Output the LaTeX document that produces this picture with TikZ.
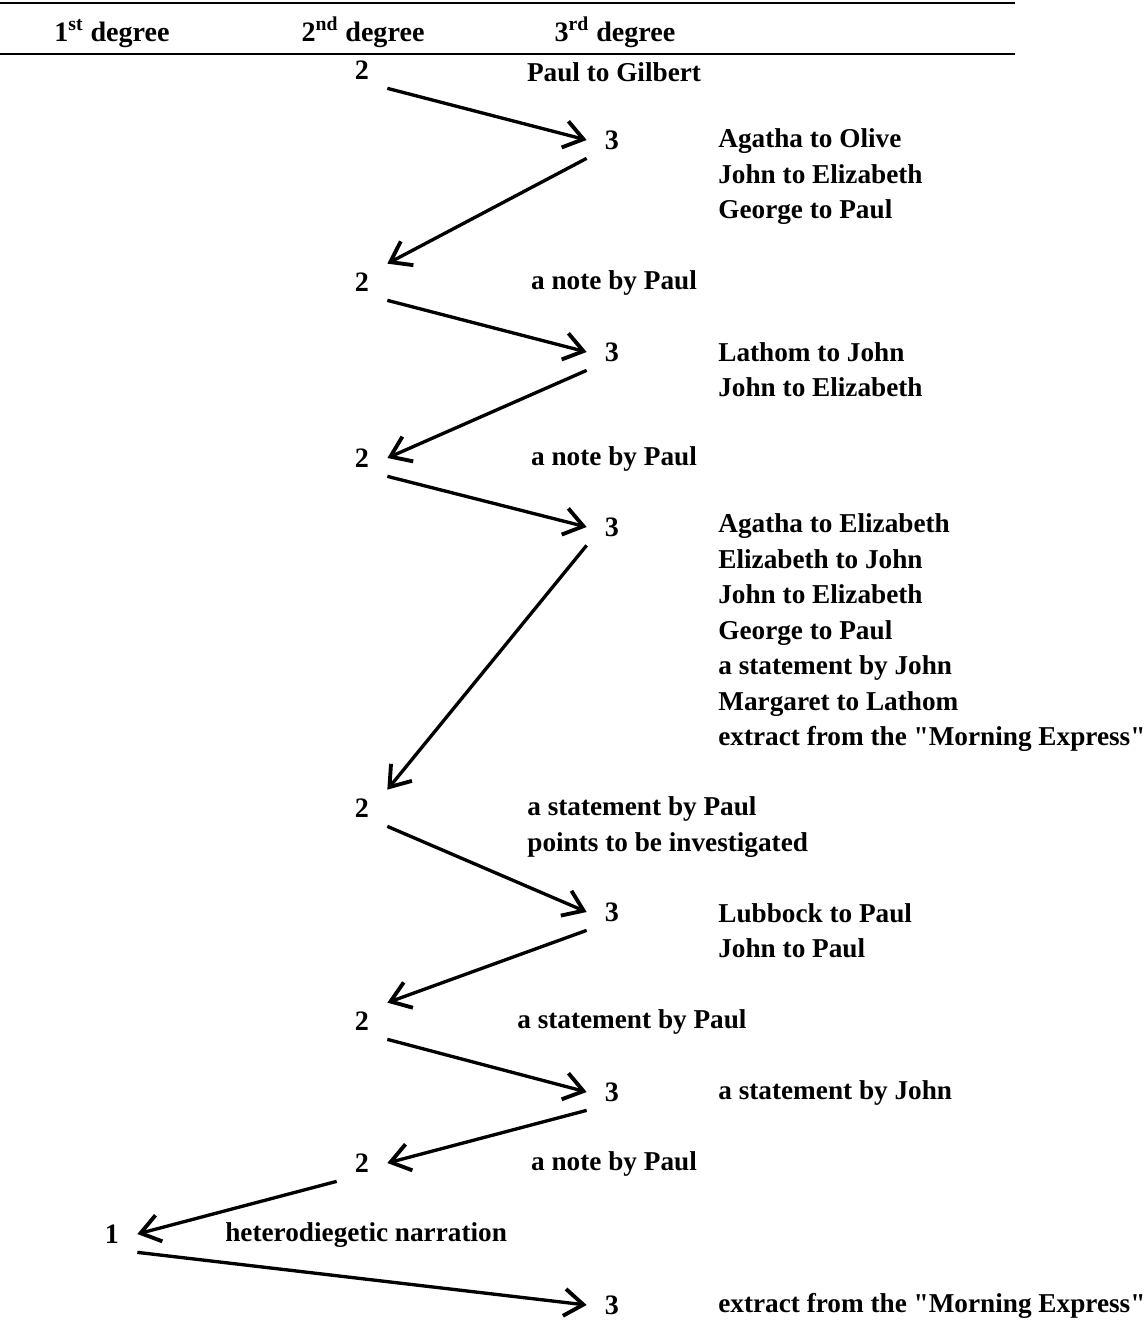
\documentclass[tikz,border=0pt]{standalone}
\usepackage{fontspec}
\setmainfont{Liberation Serif}
\usetikzlibrary{arrows.meta, positioning}
\tikzset{
    head/.style={font=\bfseries\fontsize{16}{19}\selectfont, inner sep=0pt, anchor=base},
    num/.style={font=\bfseries\fontsize{16}{19}\selectfont, inner sep=0pt, minimum width=1cm, minimum height=0.72cm},
    lbl/.style={font=\bfseries\fontsize{15.5}{20.2}\selectfont, inner sep=0pt, align=left},
    rule/.style={line width=1.3pt},
    arrow/.style={line width=1.9pt, -{Straight Barb[length=3.8mm, width=5.4mm, line width=2.2pt]}}
}

\begin{document}
\begin{tikzpicture}[x=0.02cm, y=-0.02cm]
    \useasboundingbox (0,0) rectangle (1148,1321);

    % table head
    \draw [rule] (0,3) -- (1015,3);
    \draw [rule] (0,54) -- (1015,54);
    \node (h1) [head] at (112,42) {1\textsuperscript{st} degree};
    \node (h2) [head] at (363,42) {2\textsuperscript{nd} degree};
    \node (h3) [head] at (615,42) {3\textsuperscript{rd} degree};

    % degrees
    \node (a2) [num] at (362,70) {2};
    \node (a3) [num] at (612,140) {3};
    \node (b2) [num] at (362,282) {2};
    \node (b3) [num] at (612,352) {3};
    \node (c2) [num] at (362,458) {2};
    \node (c3) [num] at (612,527) {3};
    \node (d2) [num] at (362,808) {2};
    \node (d3) [num] at (612,912) {3};
    \node (e2) [num] at (362,1021) {2};
    \node (e3) [num] at (612,1092) {3};
    \node (f2) [num] at (362,1163) {2};
    \node (g1) [num] at (112,1234) {1};
    \node (g3) [num] at (612,1305) {3};

    % texts
    \node (ta2) [lbl] at (614,72) {Paul to Gilbert};
    \node (ta3) [lbl, anchor=west] at (718,177) {Agatha to Olive\\John to Elizabeth\\George to Paul};
    \node (tb2) [lbl] at (614,283) {a note by Paul};
    \node (tb3) [lbl, anchor=west] at (718,369.5) {Lathom to John\\John to Elizabeth};
    \node (tc2) [lbl] at (614,459) {a note by Paul};
    \node (tc3) [lbl, anchor=west] at (718,633) {Agatha to Elizabeth\\Elizabeth to John\\John to Elizabeth\\George to Paul\\a statement by John\\Margaret to Lathom\\extract from the \textquotedbl Morning Express\textquotedbl};
    \node (td2) [lbl, anchor=west] at (527,827) {a statement by Paul\\points to be investigated};
    \node (td3) [lbl, anchor=west] at (718,930.5) {Lubbock to Paul\\John to Paul};
    \node (te2) [lbl, anchor=west] at (517,1022) {a statement by Paul};
    \node (te3) [lbl, anchor=west] at (718,1093) {a statement by John};
    \node (tf2) [lbl] at (614,1164) {a note by Paul};
    \node (tg1) [lbl, anchor=west] at (225,1235) {heterodiegetic narration};
    \node (tg3) [lbl, anchor=west] at (718,1306) {extract from the \textquotedbl Morning Express\textquotedbl};

    \draw [arrow] (a2.south east) -- (a3.west);
    \draw [arrow] (a3.south west) -- (b2.north east);
    \draw [arrow] (b2.south east) -- (b3.west);
    \draw [arrow] (b3.south west) -- (c2.east);
    \draw [arrow] (c2.south east) -- (c3.west);
    \draw [arrow] (c3.south west) -- (d2.north east);
    \draw [arrow] (d2.south east) -- (d3.west);
    \draw [arrow] (d3.south west) -- (e2.north east);
    \draw [arrow] (e2.south east) -- (e3.west);
    \draw [arrow] (e3.south west) -- (f2.east);
    \draw [arrow] (f2.south west) -- (g1.east);
    \draw [arrow] (g1.south east) -- (g3.west);
\end{tikzpicture}
\end{document}
